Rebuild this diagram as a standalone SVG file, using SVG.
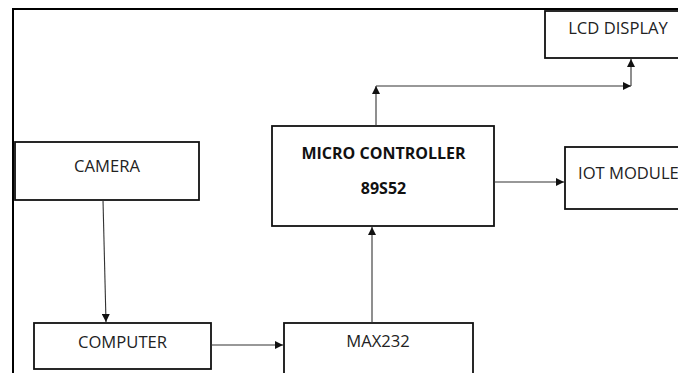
<svg xmlns="http://www.w3.org/2000/svg" width="678" height="373" viewBox="0 0 678 373">
<style>
.box{fill:#fff;stroke:#111;stroke-width:1.8}
.t{font-family:"Open Sans","Noto Sans",sans-serif;font-size:16.6px;fill:#222;text-anchor:middle}
.b{font-weight:bold;font-size:16px;fill:#111}
.c{fill:none;stroke:#333;stroke-width:1.1}
</style>
<defs>
<marker id="ah" viewBox="0 0 10 10" refX="10" refY="5" markerWidth="8" markerHeight="8" markerUnits="userSpaceOnUse" orient="auto">
<path d="M0,0 L10,5 L0,10 z" fill="#111"/>
</marker>
</defs>
<rect width="678" height="373" fill="#fff"/>
<path d="M13,373 V9 H678" fill="none" stroke="#000" stroke-width="2"/>
<g id="lcd"><rect class="box" x="545" y="11" width="140" height="47"/><text class="t" x="618" y="34">LCD DISPLAY</text></g>
<g id="mcu"><rect class="box" x="272" y="126" width="222" height="100"/><text class="t b" x="383.5" y="159">MICRO CONTROLLER</text><text class="t b" x="383.5" y="194">89S52</text></g>
<g id="iot"><rect class="box" x="565" y="147" width="130" height="62"/><text class="t" x="578" y="179" style="text-anchor:start">IOT MODULE</text></g>
<g id="camera"><rect class="box" x="15" y="142" width="184" height="58"/><text class="t" x="107" y="172">CAMERA</text></g>
<g id="computer"><rect class="box" x="34" y="323" width="177" height="46"/><text class="t" x="122.5" y="348">COMPUTER</text></g>
<g id="max232"><rect class="box" x="284" y="323" width="189" height="60"/><text class="t" x="378" y="347">MAX232</text></g>
<g id="connectors">
<path class="c" d="M376,126 V86" marker-end="url(#ah)"/>
<path class="c" d="M376,86 H631" marker-end="url(#ah)"/>
<path class="c" d="M631,86 V59" marker-end="url(#ah)"/>
<path class="c" d="M494,182 H564" marker-end="url(#ah)"/>
<path class="c" d="M103,200 L106,322" marker-end="url(#ah)"/>
<path class="c" d="M211,345 H283" marker-end="url(#ah)"/>
<path class="c" d="M372,323 V227" marker-end="url(#ah)"/>
</g>
</svg>
